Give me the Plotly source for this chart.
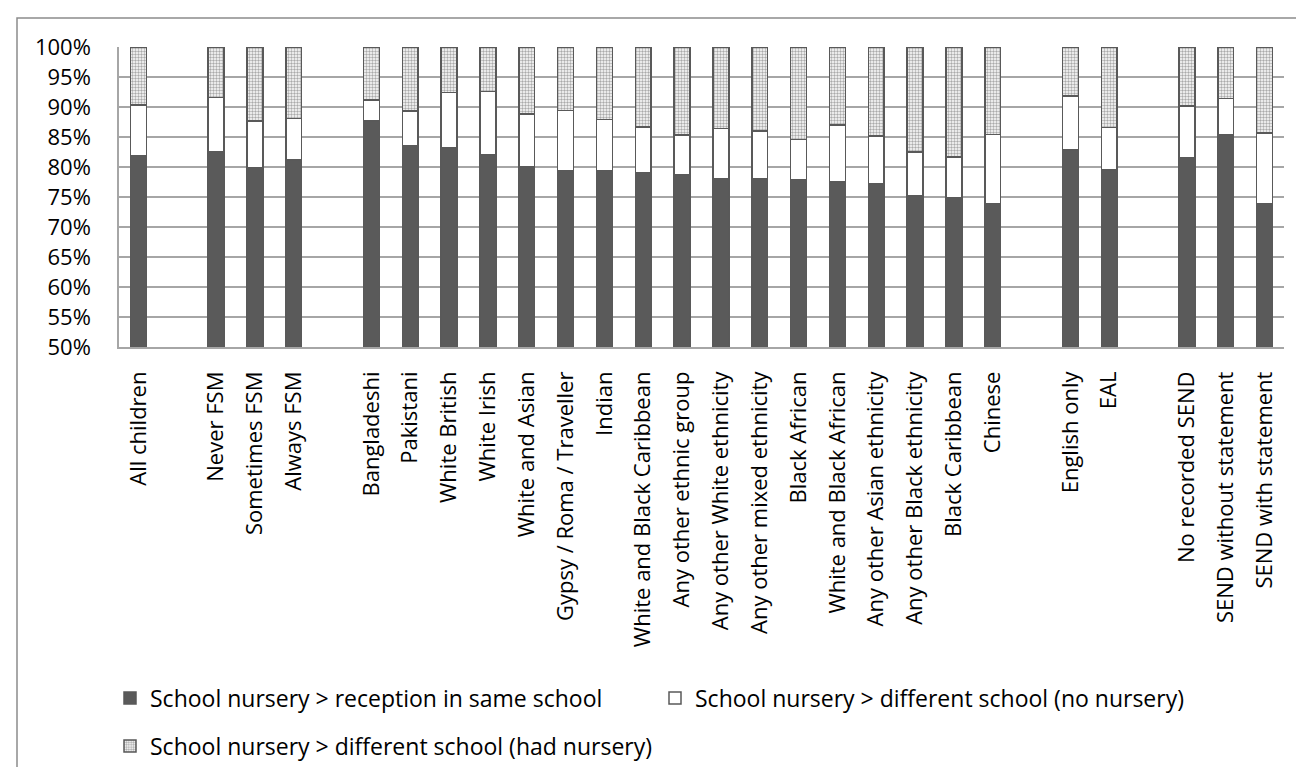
import plotly.graph_objects as go

# ---- data ----
groups = [
    ["All children"],
    ["Never FSM", "Sometimes FSM", "Always FSM"],
    ["Bangladeshi", "Pakistani", "White British", "White Irish", "White and Asian",
     "Gypsy / Roma / Traveller", "Indian", "White and Black Caribbean",
     "Any other ethnic group", "Any other White ethnicity", "Any other mixed ethnicity",
     "Black African", "White and Black African", "Any other Asian ethnicity",
     "Any other Black ethnicity", "Black Caribbean", "Chinese"],
    ["English only", "EAL"],
    ["No recorded SEND", "SEND without statement", "SEND with statement"],
]

# % staying in the same school (dark segment)
same_school = [81.9,
               82.6, 79.9, 81.2,
               87.7, 83.6, 83.2, 82.0, 80.0, 79.4, 79.4, 79.1, 78.7, 78.1, 78.05,
               77.9, 77.5, 77.2, 75.2, 74.95, 73.9,
               82.8, 79.5,
               81.55, 85.3, 73.9]
# cumulative top of the white segment
white_top = [90.3,
             91.6, 87.7, 88.05,
             91.2, 89.3, 92.4, 92.6, 88.8, 89.4, 87.9, 86.7, 85.3, 86.4, 86.0,
             84.6, 87.0, 85.2, 82.5, 81.7, 85.4,
             91.8, 86.55,
             90.2, 91.4, 85.7]

series_names = ["School nursery > reception in same school",
                "School nursery > different school (no nursery)",
                "School nursery > different school (had nursery)"]

y_ticks = list(range(50, 101, 5))

# ---- derived ----
diff_no_nursery = [round(w - s, 2) for w, s in zip(white_top, same_school)]
diff_had_nursery = [round(100 - w, 2) for w in white_top]

labels, xpos = [], []
pos = 0
for gi, g in enumerate(groups):
    if gi > 0:
        pos += 1  # blank slot between groups
    for name in g:
        labels.append(name)
        xpos.append(pos)
        pos += 1
n_slots = pos

DARK = "#5a5a5a"
OUTLINE = "#595959"
FONT = "Open Sans"

fig = go.Figure()
fig.add_bar(x=xpos, y=same_school, name=series_names[0],
            marker=dict(color=DARK, line=dict(color=OUTLINE, width=1.5)),
            legend="legend")
fig.add_bar(x=xpos, y=diff_no_nursery, name=series_names[1],
            marker=dict(color="white", line=dict(color=OUTLINE, width=1.5)),
            legend="legend")
fig.add_bar(x=xpos, y=diff_had_nursery, name=series_names[2],
            marker=dict(color="white", line=dict(color=OUTLINE, width=1.5),
                        pattern=dict(shape=".", fgcolor="#555555", bgcolor="white",
                                     size=3, solidity=0.5)),
            legend="legend2")

W, H = 1304, 767
L, R, T, B = 111, 28, 39, 428
pw, ph = W - L - R, H - T - B


def px_x(x):
    return (x - L) / pw


def px_y(y):
    return (H - B - y) / ph


fig.update_layout(
    width=W, height=H,
    margin=dict(l=L, r=R, t=T, b=B, autoexpand=False),
    barmode="stack", bargap=0.59,
    plot_bgcolor="white", paper_bgcolor="white",
    font=dict(family=FONT, size=22, color="#000000"),
    showlegend=True,
    legend=dict(orientation="h", x=px_x(102), xanchor="left",
                y=px_y(690), yanchor="middle", entrywidth=500,
                font=dict(family=FONT, size=23, color="#000000"),
                bgcolor="rgba(0,0,0,0)", traceorder="normal"),
    legend2=dict(orientation="h", x=px_x(102), xanchor="left",
                 y=px_y(738), yanchor="middle",
                 font=dict(family=FONT, size=23, color="#000000"),
                 bgcolor="rgba(0,0,0,0)"),
    xaxis=dict(range=[-0.5, n_slots - 0.5], tickmode="array", tickvals=xpos,
               ticktext=labels, tickangle=-90, showgrid=False, zeroline=False,
               showline=True, linecolor="#a6a6a6", linewidth=1.5,
               ticks="", ticklabelstandoff=14,
               tickfont=dict(family=FONT, size=22, color="#000000")),
    yaxis=dict(range=[50, 100], tickmode="array", tickvals=y_ticks,
               ticktext=[f"{v}%" for v in y_ticks], showgrid=True,
               gridcolor="#a6a6a6", gridwidth=1.5, zeroline=False,
               showline=True, linecolor="#a6a6a6", linewidth=1.5,
               ticks="", ticklabelstandoff=22,
               tickfont=dict(family=FONT, size=22, color="#000000")),
    shapes=[dict(type="rect", xref="paper", yref="paper",
                 x0=px_x(9), x1=px_x(1320), y0=px_y(790), y1=px_y(10),
                 line=dict(color="#8c8c8c", width=1.5), fillcolor="rgba(0,0,0,0)",
                 layer="below")],
)

fig.write_html("out.html")
